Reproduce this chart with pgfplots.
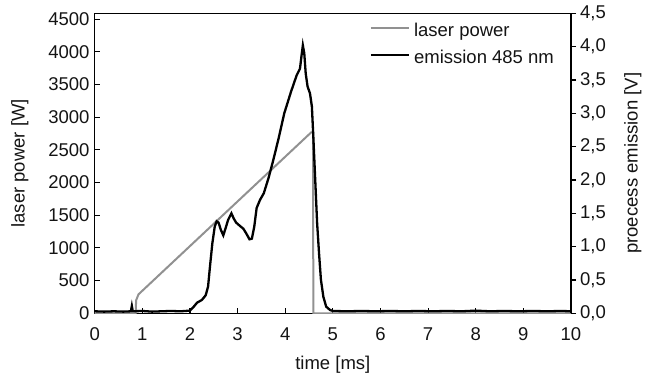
\documentclass[border=0pt]{standalone}
\usepackage{fontspec}
\setmainfont{Liberation Sans}
\usepackage{pgfplots}
\pgfplotsset{compat=1.18}
\definecolor{lasergray}{RGB}{145,145,145}
\definecolor{txt}{RGB}{20,20,20}
\pgfplotsset{
  mybase/.style={
    at={(0pt,0pt)}, anchor=south west, scale only axis,
    width=476.3pt, height=300pt,
    xmin=0, xmax=10,
    axis line style={line width=1.3pt, black},
    every tick/.style={line width=1.1pt, black},
    major tick length=5pt,
    tick label style={font=\fontsize{18.5}{22}\selectfont, text=txt},
    label style={font=\fontsize{18.5}{22}\selectfont, text=txt},
    /pgf/number format/assume math mode=true,
  }
}
\begin{document}
\begin{tikzpicture}
\path[use as bounding box] (-94.7pt,-64.7pt) rectangle (559.3pt,313.3pt);
\begin{axis}[mybase,
  ymin=0, ymax=4590,
  xtick={0,1,...,10}, ytick={0,500,...,4500},
  xtick pos=bottom, ytick pos=left, tick align=inside,
  /pgf/number format/set thousands separator={},
  yticklabel style={inner sep=1pt, xshift=-4pt},
  xticklabel style={inner sep=1pt, yshift=-13pt},
  xlabel={time [ms]}, ylabel={laser power [W]},
  xlabel style={at={(axis description cs:0.5,-0.172)}, anchor=center},
  ylabel style={at={(axis description cs:-0.157,0.5)}, anchor=center},
]
\addplot[lasergray, line width=2pt] coordinates {
(0,0) (0.86,0) (0.87,200) (0.92,290) (4.545,2768) (4.585,2768) (4.59,0) (10,0)
};
\end{axis}
\begin{axis}[mybase,
  ymin=0, ymax=4.5,
  ytick={0,0.5,...,4.5},
  axis y line*=right, axis x line=none,
  tick align=outside,
  yticklabel style={inner sep=1pt, xshift=3pt,
    /pgf/number format/.cd, fixed, fixed zerofill, precision=1, use comma},
  ylabel={proecess emission [V]},
  ylabel style={at={(axis description cs:1.130,0.5)}, anchor=center},
  legend style={draw=none, fill=none, at={(0.975,0.98)}, anchor=north east,
    font=\fontsize{18.5}{22}\selectfont, text=txt,
    nodes={inner sep=2pt}, row sep=7.5pt,
    /tikz/every odd column/.append style={column sep=2pt}},
  legend image code/.code={\draw[#1] (0pt,0.26em) -- (38pt,0.26em);},
  legend cell align=left,
]
\addlegendimage{lasergray, line width=2pt}
\addlegendentry{laser power}
\addplot[black, line width=2.3pt] coordinates {
(0,0.03) (0.2,0.025) (0.4,0.03) (0.6,0.025) (0.76,0.03) (0.78,0.11) (0.80,0.03)
(1.0,0.035) (1.2,0.025) (1.4,0.03) (1.6,0.035) (1.8,0.03) (2.0,0.04)
(2.08,0.10) (2.15,0.16) (2.25,0.20) (2.33,0.27) (2.38,0.40) (2.42,0.70)
(2.47,1.05) (2.52,1.30) (2.56,1.38) (2.60,1.36) (2.65,1.25) (2.70,1.17)
(2.75,1.28) (2.80,1.40) (2.87,1.50) (2.92,1.42) (2.97,1.36) (3.05,1.31)
(3.12,1.27) (3.18,1.20) (3.25,1.11) (3.30,1.12) (3.35,1.30) (3.40,1.58)
(3.47,1.70) (3.55,1.80) (3.65,2.03) (3.75,2.30) (3.86,2.62) (3.98,3.00)
(4.12,3.32) (4.24,3.57) (4.31,3.67) (4.34,3.85) (4.37,4.02) (4.40,3.90)
(4.43,3.60) (4.47,3.40) (4.52,3.30) (4.56,3.10) (4.59,2.65) (4.63,2.00)
(4.67,1.35) (4.71,0.90) (4.75,0.50) (4.80,0.25) (4.86,0.10) (4.94,0.05)
(5.0,0.035) (5.3,0.03) (5.6,0.035) (5.9,0.03) (6.2,0.035) (6.5,0.03)
(6.8,0.035) (7.1,0.03) (7.4,0.035) (7.7,0.03) (8.0,0.04) (8.3,0.03)
(8.6,0.035) (8.9,0.03) (9.2,0.035) (9.5,0.03) (9.8,0.035) (10,0.03)
};
\addlegendentry{emission 485 nm}
\end{axis}
\end{tikzpicture}
\end{document}
